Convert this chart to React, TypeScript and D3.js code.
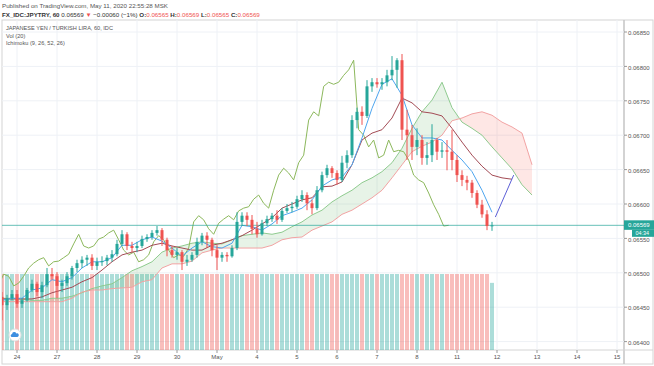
import React from "react";
import * as d3 from "d3";

const publishedText = "Published on TradingView.com, May 11, 2020 22:55:28 MSK";
const symbolText = "FX_IDC:JPYTRY, 60";
const legendLines = ["JAPANESE YEN / TURKISH LIRA, 60, IDC", "Vol (20)", "Ichimoku (9, 26, 52, 26)"];

// day labels, one per trading day starting Apr 24
const dayLabels = ["24", "27", "28", "29", "30", "May", "4", "5", "6", "7", "8", "11", "12", "13", "14", "15"];
const priceTicks = [0.064, 0.0645, 0.065, 0.0655, 0.066, 0.0665, 0.067, 0.0675, 0.068, 0.0685];

// candles: 3h bars, first bar at -9h (Apr 23 15:00)
const barStartHour = -9;
const barStepHours = 3;
const opens = [
  0.06465, 0.06453, 0.06463, 0.06469, 0.06455, 0.0646, 0.06475, 0.06484, 0.06472, 0.06482,
  0.06498, 0.06495, 0.06481, 0.06485, 0.06495, 0.06507, 0.06514, 0.06519, 0.06522, 0.0651,
  0.06516, 0.06517, 0.06522, 0.06527, 0.06542, 0.06556, 0.06539, 0.06536, 0.06539, 0.06549,
  0.06552, 0.06558, 0.06562, 0.06548, 0.06533, 0.06526, 0.0653, 0.06516, 0.06519, 0.06526,
  0.06545, 0.06554, 0.06548, 0.06533, 0.06522, 0.06526, 0.06524, 0.06536, 0.06574, 0.06583,
  0.06577, 0.06564, 0.06556, 0.06572, 0.06578, 0.06583, 0.06577, 0.0659, 0.06594, 0.06596,
  0.06607, 0.06613, 0.06601, 0.06594, 0.0662, 0.06642, 0.06652, 0.06645, 0.06635, 0.0666,
  0.06671, 0.06722, 0.06734, 0.06728, 0.06771, 0.06777, 0.06774, 0.06777, 0.06787, 0.06795,
  0.06809, 0.06708, 0.067, 0.06683, 0.06693, 0.06667, 0.06671, 0.06693, 0.06676, 0.06678,
  0.06676, 0.06664, 0.06642, 0.06635, 0.06631, 0.06616, 0.06599, 0.06585, 0.06568,
];
const highs = [
  0.06472, 0.06468, 0.06475, 0.06475, 0.06463, 0.06478, 0.0649, 0.06487, 0.06487, 0.06507,
  0.06507, 0.06501, 0.0649, 0.06501, 0.0651, 0.06519, 0.06524, 0.06526, 0.06527, 0.06522,
  0.06524, 0.06526, 0.06533, 0.06548, 0.06562, 0.06559, 0.06545, 0.06545, 0.06554, 0.06556,
  0.06562, 0.06568, 0.06565, 0.06551, 0.06539, 0.06536, 0.06533, 0.06526, 0.0653, 0.06551,
  0.06558, 0.06559, 0.06551, 0.0654, 0.0653, 0.0653, 0.0654, 0.06588, 0.06588, 0.06588,
  0.06584, 0.06574, 0.06577, 0.06583, 0.06587, 0.06591, 0.06594, 0.066, 0.06603, 0.06612,
  0.0662, 0.06617, 0.06606, 0.06626, 0.06647, 0.06657, 0.06655, 0.06649, 0.0667, 0.06678,
  0.06729, 0.0674, 0.06742, 0.0678, 0.06783, 0.06783, 0.06783, 0.06795, 0.06815, 0.06812,
  0.06818, 0.06737, 0.06715, 0.0671, 0.067, 0.0669, 0.06716, 0.06696, 0.0669, 0.06693,
  0.06708, 0.06671, 0.06649, 0.06641, 0.06635, 0.0662, 0.06606, 0.06591, 0.06574,
];
const lows = [
  0.06431, 0.06446, 0.0646, 0.06449, 0.06449, 0.06458, 0.06472, 0.06466, 0.06463, 0.06479,
  0.0649, 0.06463, 0.06472, 0.06481, 0.0649, 0.06501, 0.06507, 0.0651, 0.06504, 0.06504,
  0.0651, 0.06511, 0.06516, 0.06524, 0.06539, 0.06533, 0.0653, 0.0653, 0.06536, 0.06545,
  0.06548, 0.06554, 0.06539, 0.06524, 0.06522, 0.06519, 0.06504, 0.0651, 0.06516, 0.06522,
  0.0654, 0.06536, 0.06524, 0.06504, 0.06516, 0.06516, 0.06522, 0.06533, 0.06568, 0.06568,
  0.06556, 0.06551, 0.06554, 0.06568, 0.06574, 0.06571, 0.06574, 0.06587, 0.06588, 0.06593,
  0.06603, 0.06591, 0.06585, 0.06591, 0.06617, 0.06638, 0.06638, 0.06628, 0.06632, 0.06652,
  0.06667, 0.0671, 0.06715, 0.06725, 0.06763, 0.06769, 0.06766, 0.06771, 0.0678, 0.06769,
  0.06693, 0.06664, 0.06664, 0.06671, 0.06657, 0.06657, 0.06661, 0.06664, 0.06667, 0.06649,
  0.06649, 0.06632, 0.06626, 0.0662, 0.06609, 0.06594, 0.0658, 0.06562, 0.06561,
];
const closes = [
  0.06453, 0.06463, 0.06469, 0.06455, 0.0646, 0.06475, 0.06484, 0.06472, 0.06482, 0.06498,
  0.06495, 0.06481, 0.06485, 0.06495, 0.06507, 0.06514, 0.06519, 0.06522, 0.0651, 0.06516,
  0.06517, 0.06522, 0.06527, 0.06542, 0.06556, 0.06539, 0.06536, 0.06539, 0.06549, 0.06552,
  0.06558, 0.06562, 0.06548, 0.06533, 0.06526, 0.0653, 0.06516, 0.06519, 0.06526, 0.06545,
  0.06554, 0.06548, 0.06533, 0.06522, 0.06526, 0.06524, 0.06536, 0.06574, 0.06583, 0.06577,
  0.06564, 0.06556, 0.06572, 0.06578, 0.06583, 0.06577, 0.0659, 0.06594, 0.06596, 0.06607,
  0.06613, 0.06601, 0.06594, 0.0662, 0.06642, 0.06652, 0.06645, 0.06635, 0.0666, 0.06671,
  0.06722, 0.06734, 0.06728, 0.06771, 0.06777, 0.06774, 0.06777, 0.06787, 0.06795, 0.06809,
  0.06708, 0.067, 0.06683, 0.06693, 0.06667, 0.06671, 0.06693, 0.06676, 0.06678, 0.06676,
  0.06664, 0.06642, 0.06635, 0.06631, 0.06616, 0.06599, 0.06585, 0.06568, 0.06569,
];
const volumes = [
  60, 60, 60, 60, 60, 60, 60, 60, 60, 60,
  60, 60, 60, 60, 60, 60, 60, 60, 60, 60,
  60, 60, 60, 60, 60, 60, 60, 60, 60, 60,
  60, 60, 60, 60, 60, 60, 60, 60, 60, 60,
  60, 60, 60, 60, 60, 60, 60, 60, 60, 60,
  60, 60, 60, 60, 60, 60, 60, 60, 60, 60,
  60, 60, 60, 60, 60, 60, 60, 60, 60, 60,
  60, 60, 60, 60, 60, 60, 60, 60, 60, 60,
  60, 60, 60, 60, 60, 60, 60, 60, 60, 60,
  60, 60, 60, 60, 60, 60, 60, 60, 53,
];

// ichimoku lines, read every 6h from -9h (spans already at their plotted, shifted place)
const lineStartHour = -9;
const lineStepHours = 6;
const laggingShiftHours = 26;
const conversionLine = [
  0.0646, 0.06463, 0.06463, 0.06475, 0.06478, 0.0649, 0.06487, 0.06493, 0.06507, 0.06516,
  0.06516, 0.06522, 0.0654, 0.0654, 0.06548, 0.06552, 0.06546, 0.06536, 0.06524, 0.06536,
  0.06545, 0.06538, 0.06536, 0.06543, 0.06569, 0.06567, 0.06562, 0.06571, 0.06583, 0.06588,
  0.06594, 0.06606, 0.06626, 0.06635, 0.06639, 0.06657, 0.06696, 0.06739, 0.06774, 0.06782,
  0.06758, 0.06715, 0.06696, 0.06696, 0.06693, 0.06678, 0.06664, 0.06647, 0.0662, 0.06588,
];
const baseLine = [
  0.06462, 0.06462, 0.06462, 0.06462, 0.06465, 0.06471, 0.06475, 0.06479, 0.06487, 0.06493,
  0.06504, 0.06516, 0.06526, 0.0653, 0.06533, 0.0654, 0.06543, 0.06539, 0.06536, 0.06533,
  0.06533, 0.0654, 0.06543, 0.06548, 0.06554, 0.06562, 0.06571, 0.0658, 0.06594, 0.066,
  0.06606, 0.06609, 0.06625, 0.06626, 0.06632, 0.06657, 0.06693, 0.06703, 0.06708, 0.06725,
  0.06754, 0.06747, 0.06734, 0.06732, 0.06728, 0.0671, 0.0669, 0.06671, 0.06655, 0.06642,
  0.06638, 0.06636,
];
const leadingSpanA = [
  0.06463, 0.06463, 0.06462, 0.0646, 0.0646, 0.06463, 0.06463, 0.06466, 0.06471, 0.06477,
  0.06481, 0.06484, 0.06493, 0.06503, 0.06509, 0.06516, 0.0653, 0.06536, 0.06539, 0.06543,
  0.06545, 0.06543, 0.06542, 0.06548, 0.06554, 0.06556, 0.06558, 0.06556, 0.06559, 0.06567,
  0.06574, 0.06584, 0.06591, 0.06603, 0.06612, 0.0662, 0.06631, 0.06638, 0.06647, 0.0666,
  0.06681, 0.0671, 0.06734, 0.06751, 0.06777, 0.0674, 0.06719, 0.0671, 0.067, 0.06683,
  0.06667, 0.06651, 0.06628, 0.06613,
];
const leadingSpanB = [
  0.06458, 0.06458, 0.06458, 0.06458, 0.06458, 0.06458, 0.06458, 0.06463, 0.06472, 0.06475,
  0.06475, 0.06477, 0.06478, 0.06479, 0.06487, 0.0649, 0.06507, 0.06513, 0.06513, 0.06517,
  0.06529, 0.06533, 0.06536, 0.06536, 0.06536, 0.06536, 0.06536, 0.0654, 0.06548, 0.06551,
  0.06552, 0.06562, 0.06568, 0.06574, 0.06585, 0.06591, 0.066, 0.06609, 0.0662, 0.06638,
  0.06657, 0.06676, 0.06684, 0.0669, 0.067, 0.06721, 0.06725, 0.06731, 0.06734, 0.06729,
  0.06719, 0.06712, 0.06703, 0.06657,
];
// drawn projection line at the end
const projectionHours = [287, 298];
const projectionPrices = [0.06581, 0.06642];
const lastPrice = 0.06569;
const countdownText = "04:34";

const UP = "#26a69a";
const DOWN = "#ef5350";
const FONT = "'Liberation Sans', Arial, sans-serif";
const pane = { left: 2, right: 624, top: 20, bottom: 350 };

export default function App() {
  const x = d3.scaleLinear().domain([0, 360]).range([17, 617]);
  const y = d3.scaleLinear().domain([0.064, 0.0685]).range([341.6, 32]);
  const vy = d3.scaleLinear().domain([0, d3.max(volumes) as number]).range([350, 274]);

  const barX = (i: number) => x(barStartHour + i * barStepHours);
  const lineX = (k: number) => x(lineStartHour + k * lineStepHours);
  const gridLine = d3
    .line<number>()
    .x((d, i) => lineX(i))
    .y((d) => y(d));
  const lagging = d3
    .line<number>()
    .x((d, i) => x(barStartHour + i * barStepHours - laggingShiftHours))
    .y((d) => y(d));

  // cloud between the spans, split where they cross
  const cloud: { pts: [number, number][]; up: boolean }[] = [];
  for (let k = 0; k < leadingSpanA.length - 1; k++) {
    const a0 = leadingSpanA[k], a1 = leadingSpanA[k + 1];
    const b0 = leadingSpanB[k], b1 = leadingSpanB[k + 1];
    const x0 = lineX(k), x1 = lineX(k + 1);
    const d0 = a0 - b0, d1 = a1 - b1;
    if (d0 * d1 >= 0) {
      cloud.push({ pts: [[x0, y(a0)], [x1, y(a1)], [x1, y(b1)], [x0, y(b0)]], up: d0 + d1 >= 0 });
    } else {
      const t = d0 / (d0 - d1);
      const xm = x0 + t * (x1 - x0);
      const pm = a0 + t * (a1 - a0);
      cloud.push({ pts: [[x0, y(a0)], [xm, y(pm)], [x0, y(b0)]], up: d0 > 0 });
      cloud.push({ pts: [[xm, y(pm)], [x1, y(a1)], [x1, y(b1)]], up: d1 > 0 });
    }
  }

  const fmt = d3.format(".5f");
  const lastY = y(lastPrice);

  return (
    <svg
      width={654}
      height={366}
      style={{ position: "absolute", left: 0, top: 0, background: "#fff", fontFamily: FONT }}
    >
      <defs>
        <clipPath id="pane">
          <rect x={pane.left} y={pane.top} width={pane.right - pane.left} height={pane.bottom - pane.top} />
        </clipPath>
      </defs>

      {/* header */}
      <text x={2} y={8} fontSize={6.2} fill="#555">{publishedText}</text>
      <text x={2} y={17} fontSize={6.2} fill="#333">
        <tspan fontWeight="bold">{symbolText}</tspan>
        <tspan> {fmt(lastPrice)} </tspan>
        <tspan fill={DOWN}>▼</tspan>
        <tspan> −0.00060 (−1%) </tspan>
        <tspan fontWeight="bold">O:</tspan>
        <tspan fill={DOWN}>0.06565</tspan>
        <tspan fontWeight="bold"> H:</tspan>
        <tspan fill={DOWN}>0.06569</tspan>
        <tspan fontWeight="bold"> L:</tspan>
        <tspan fill={DOWN}>0.06565</tspan>
        <tspan fontWeight="bold"> C:</tspan>
        <tspan fill={DOWN}>{fmt(closes[closes.length - 1])}</tspan>
      </text>

      {/* frame */}
      <rect x={2} y={20} width={651} height={344} fill="none" stroke="#d4d4d4" />
      <line x1={pane.right} x2={pane.right} y1={20} y2={364} stroke="#c4c4c4" strokeWidth={1.5} />
      <line x1={2} x2={653} y1={pane.bottom} y2={pane.bottom} stroke="#d4d4d4" />

      {/* grid */}
      {dayLabels.map((d, i) => (
        <line key={"vg" + i} x1={x(i * 24)} x2={x(i * 24)} y1={pane.top} y2={pane.bottom} stroke="#eef1f6" />
      ))}
      {priceTicks.map((p) => (
        <line key={"hg" + p} x1={pane.left} x2={pane.right} y1={y(p)} y2={y(p)} stroke="#eef1f6" />
      ))}

      <g clipPath="url(#pane)">
        {/* volume */}
        {volumes.map((v, i) => (
          <rect
            key={"v" + i}
            x={barX(i) - 2}
            y={vy(v)}
            width={4}
            height={vy(0) - vy(v)}
            fill={closes[i] >= opens[i] ? UP : DOWN}
            opacity={0.38}
          />
        ))}

        {/* cloud */}
        {cloud.map((c, i) => (
          <polygon
            key={"c" + i}
            points={c.pts.map((p) => p.join(",")).join(" ")}
            fill={c.up ? "rgba(67,160,71,0.13)" : "rgba(244,67,54,0.13)"}
          />
        ))}
        <path d={gridLine(leadingSpanA) || ""} fill="none" stroke="#8fcb8f" strokeWidth={1} />
        <path d={gridLine(leadingSpanB) || ""} fill="none" stroke="#f2a3a3" strokeWidth={1} />
        <path d={lagging(closes) || ""} fill="none" stroke="#8cb85c" strokeWidth={1} />
        <path d={gridLine(baseLine) || ""} fill="none" stroke="#a34b55" strokeWidth={1} />
        <path d={gridLine(conversionLine) || ""} fill="none" stroke="#4ea6ef" strokeWidth={1} />

        {/* price line */}
        <line x1={pane.left} x2={pane.right} y1={lastY} y2={lastY} stroke={UP} strokeOpacity={0.7} />

        {/* candles */}
        {closes.map((c, i) => {
          const col = c >= opens[i] ? UP : DOWN;
          const cx = barX(i);
          const top = y(Math.max(c, opens[i]));
          const bot = y(Math.min(c, opens[i]));
          return (
            <g key={"k" + i}>
              <line x1={cx} x2={cx} y1={y(highs[i])} y2={y(lows[i])} stroke={col} strokeWidth={1} />
              <rect x={cx - 1.5} y={top} width={3} height={Math.max(1, bot - top)} fill={col} />
            </g>
          );
        })}

        <line
          x1={x(projectionHours[0])}
          y1={y(projectionPrices[0])}
          x2={x(projectionHours[1])}
          y2={y(projectionPrices[1])}
          stroke="#5c5fd6"
          strokeWidth={1}
        />
      </g>

      {/* legend */}
      {legendLines.map((t, i) => (
        <text key={"lg" + i} x={6} y={30 + i * 7.5} fontSize={5.6} fill="#555">
          {t}
        </text>
      ))}

      {/* cloud badge */}
      <circle cx={15} cy={335} r={6} fill="#fff" stroke="#e3e3e3" />
      <path d="M11.5,337 a1.6,1.6 0 0 1 0.6,-3 a2.2,2.2 0 0 1 4.2,-0.6 a1.8,1.8 0 0 1 1.2,3.6 z" fill="#3d8fe0" />

      {/* price axis */}
      {priceTicks.map((p) => (
        <g key={"pt" + p}>
          <line x1={pane.right} x2={pane.right + 3} y1={y(p)} y2={y(p)} stroke="#999" />
          <text x={pane.right + 4} y={y(p) + 1} dy="0.35em" fontSize={6} fill="#555">
            {fmt(p)}
          </text>
        </g>
      ))}
      <rect x={pane.right} y={lastY - 5} width={30} height={9.5} fill={UP} />
      <text x={pane.right + 4} y={lastY - 0.3} dy="0.35em" fontSize={6} fill="#fff">
        {fmt(lastPrice)}
      </text>
      <rect x={pane.right + 8} y={lastY + 4.5} width={22} height={7} fill={UP} />
      <text x={pane.right + 11.5} y={lastY + 8} dy="0.35em" fontSize={5.4} fill="#fff">
        {countdownText}
      </text>

      {/* time axis */}
      {dayLabels.map((d, i) => (
        <g key={"dt" + i}>
          <line x1={x(i * 24)} x2={x(i * 24)} y1={pane.bottom} y2={pane.bottom + 3} stroke="#999" />
          <text x={x(i * 24)} y={359} textAnchor="middle" fontSize={6} fill="#555">
            {d}
          </text>
        </g>
      ))}
    </svg>
  );
}
